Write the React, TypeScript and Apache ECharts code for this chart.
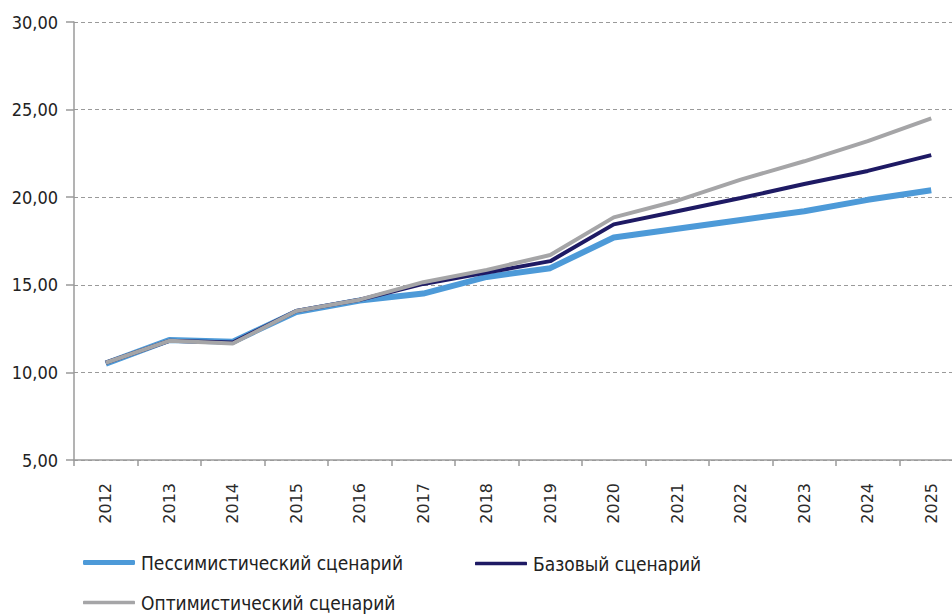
import React, { useEffect, useRef } from "react";
import * as echarts from "echarts";

const years = ["2012", "2013", "2014", "2015", "2016", "2017", "2018", "2019", "2020", "2021", "2022", "2023", "2024", "2025"];
const pessimistic = [10.5, 11.85, 11.75, 13.45, 14.1, 14.5, 15.45, 15.95, 17.7, 18.2, 18.7, 19.2, 19.85, 20.4];
const base = [10.55, 11.8, 11.7, 13.5, 14.15, 15.05, 15.7, 16.35, 18.45, 19.2, 19.95, 20.75, 21.5, 22.4];
const optimistic = [10.55, 11.8, 11.65, 13.5, 14.15, 15.15, 15.85, 16.7, 18.85, 19.8, 21.0, 22.05, 23.2, 24.5];
const seriesNames = ["Пессимистический сценарий", "Базовый сценарий", "Оптимистический сценарий"];
const colors = ["#4d9ad8", "#1e1a64", "#a5a5a7"];

const narrow = '"Liberation Sans Narrow", "DejaVu Sans Condensed", sans-serif';

export default function App() {
  const ref = useRef<HTMLDivElement>(null);
  useEffect(() => {
    const chart = echarts.init(ref.current!, null, { renderer: "svg" });
    const legendText = { fontFamily: narrow, fontSize: 19, color: "#222", padding: [0, 0, 0, 1] };
    const mkLegend = (i: number, left: number, top: number, h: number) => ({
      data: [seriesNames[i]],
      left,
      top,
      padding: 0,
      icon: "roundRect",
      itemWidth: 52,
      itemHeight: h,
      itemGap: 0,
      itemStyle: { color: colors[i] },
      textStyle: legendText,
    });
    chart.setOption({
      animation: false,
      grid: { left: 74, top: 22, bottom: 156, right: 0, containLabel: false },
      legend: [mkLegend(0, 83, 553, 5), mkLegend(1, 475, 554, 3.5), mkLegend(2, 83, 593, 3.5)],
      xAxis: {
        type: "category",
        data: years,
        boundaryGap: true,
        axisLine: { lineStyle: { color: "#9a9a9a", width: 1.5 } },
        axisTick: { show: true, length: 6, lineStyle: { color: "#9a9a9a", width: 1.5 } },
        axisLabel: { rotate: 90, margin: 23, fontFamily: "DejaVu Sans", fontSize: 16, color: "#2a2a2a", interval: 0 },
      },
      yAxis: {
        type: "value",
        min: 5,
        max: 30,
        interval: 5,
        axisLine: { show: true, lineStyle: { color: "#9a9a9a", width: 1.5 } },
        axisTick: { show: true, length: 8, lineStyle: { color: "#9a9a9a", width: 1.5 } },
        axisLabel: {
          margin: 16,
          fontFamily: narrow,
          fontSize: 18,
          color: "#222",
          formatter: (v: number) => v.toFixed(2).replace(".", ","),
        },
        splitLine: { show: true, lineStyle: { color: "#9a9a9a", type: [4, 3], width: 1.2 } },
      },
      series: [
        { name: seriesNames[0], type: "line", data: pessimistic, symbol: "none", lineStyle: { color: colors[0], width: 6 }, itemStyle: { color: colors[0] } },
        { name: seriesNames[1], type: "line", data: base, symbol: "none", lineStyle: { color: colors[1], width: 4 }, itemStyle: { color: colors[1] } },
        { name: seriesNames[2], type: "line", data: optimistic, symbol: "none", lineStyle: { color: colors[2], width: 4 }, itemStyle: { color: colors[2] } },
      ],
    });
    return () => chart.dispose();
  }, []);
  return (
    <div style={{ position: "absolute", left: 0, top: 0, width: 952, height: 616, overflow: "hidden" }}>
      <div ref={ref} style={{ position: "absolute", left: 0, top: 0, width: 963, height: 616 }} />
    </div>
  );
}
